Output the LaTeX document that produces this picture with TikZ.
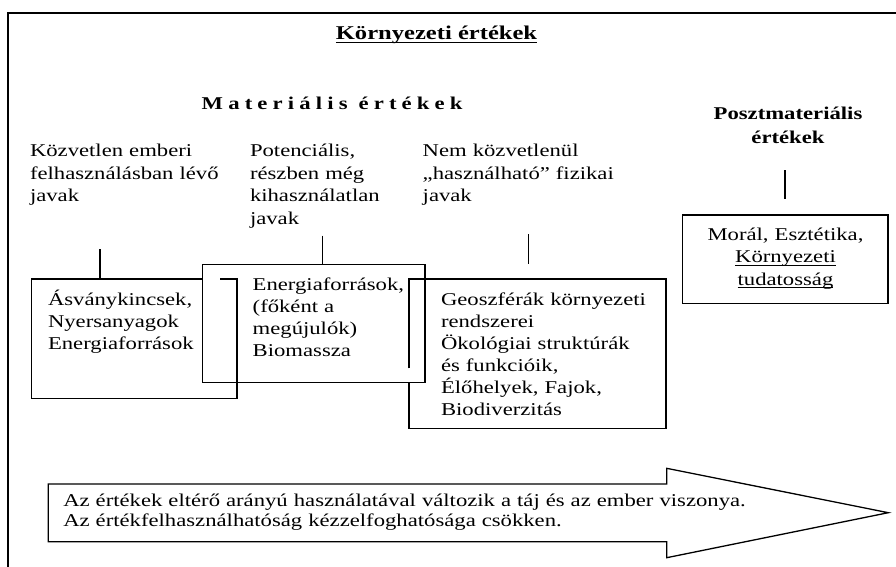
\documentclass[tikz,border=0pt]{standalone}
\usepackage{fontspec}
\setmainfont{Liberation Serif}[FakeStretch=1.26]
\newlength\ulw
\newcommand\myul[1]{\leavevmode\settowidth\ulw{#1}\rlap{\rule[-3.4pt]{\ulw}{1.1pt}}#1}
\begin{document}
\begin{tikzpicture}[x=1pt,y=-1pt,
  every node/.style={inner sep=0pt,outer sep=0pt},
  txt/.style={font=\fontsize{18}{22.5}\selectfont,anchor=base west,align=left,text width=#1},
  btxt/.style={font=\fontsize{18}{22}\selectfont,anchor=base west,align=left,text width=#1},
  ctxt/.style={anchor=base,align=center,text width=#1},
  ln/.style={line width=1.3pt},
  frame/.style={line width=2.2pt}]
\useasboundingbox (0,0) rectangle (896,567);
\fill[white] (0,0) rectangle (896,567);
% outer frame
\coordinate (fb) at (7.8,567);
\coordinate (fc) at (7.8,12.7);
\coordinate (fr) at (896,12.7);
\draw[frame] (fb) -- (fc) -- (fr);
% headings
\node[font=\fontsize{19.5}{22}\selectfont\bfseries,anchor=base] (title) at (436.5,39.3) {\myul{Környezeti értékek}};
\node[font=\fontsize{18}{22}\selectfont\bfseries\addfontfeature{LetterSpace=28.7},anchor=base west] (mat) at (201.7,110) {Materiális értékek};
\node[ctxt=200pt,font=\fontsize{18}{24}\selectfont\bfseries] (post) at (788,119.3) {Posztmateriális\\értékek};
% column texts
\node[txt=200pt] (c1) at (30,156.7) {Közvetlen emberi\\felhasználásban lévő\\javak};
\node[txt=170pt] (c2) at (250,156.7) {Potenciális,\\részben még\\kihasználatlan\\javak};
\node[txt=230pt] (c3) at (422.7,156.7) {Nem közvetlenül\\„használható” fizikai\\javak};
% box 1
\coordinate (b1a) at (202.7,279);
\coordinate (b1b) at (31.7,279);
\coordinate (b1c) at (31.7,398.3);
\coordinate (b1d) at (237,398.3);
\coordinate (b1e) at (237,279);
\coordinate (b1f) at (219.7,279);
\draw[ln] (b1a) -- (b1b) -- (b1c) -- (b1d) -- (b1e) -- (b1f);
\node[btxt=190pt] (t1) at (48,305) {Ásványkincsek,\\Nyersanyagok\\Energiaforrások};
% box 2
\coordinate (b2a) at (202.7,264.3);
\coordinate (b2b) at (425,382.7);
\draw[ln] (b2a) rectangle (b2b);
\node[btxt=175pt] (t2) at (252.7,290) {Energiaforrások,\\(főként a\\megújulók)\\Biomassza};
% box 3
\coordinate (b3a) at (409,368.3);
\coordinate (b3b) at (409,279);
\coordinate (b3c) at (666,279);
\coordinate (b3d) at (666,428.3);
\coordinate (b3e) at (409,428.3);
\coordinate (b3f) at (409,382.7);
\draw[ln] (b3a) -- (b3b) -- (b3c) -- (b3d) -- (b3e) -- (b3f);
\node[btxt=225pt] (t3) at (441,305) {Geoszférák környezeti\\rendszerei\\Ökológiai struktúrák\\és funkcióik,\\Élőhelyek, Fajok,\\Biodiverzitás};
% box 4
\node[draw,ln,minimum width=205.3pt,minimum height=88.3pt,anchor=north west] (b4) at (682.7,215) {};
\node[ctxt=200pt,font=\fontsize{18}{22.5}\selectfont] (t4) at (785.5,240) {Morál, Esztétika,\\\myul{Környezeti}\\\myul{tudatosság}};
% connectors
\coordinate (k1) at (100,249.3);
\coordinate (k1b) at (100,279);
\coordinate (k2) at (322.7,235.7);
\coordinate (k2b) at (322.7,264.3);
\coordinate (k3) at (528.3,234);
\coordinate (k3b) at (528.3,264.3);
\coordinate (k4) at (785,170);
\coordinate (k4b) at (785,199.3);
\draw[ln] (k1) -- (k1b);
\draw[ln] (k2) -- (k2b);
\draw[ln] (k3) -- (k3b);
\draw[ln] (k4) -- (k4b);
% arrow
\coordinate (a1) at (48.3,484);
\coordinate (a2) at (666.7,484);
\coordinate (a3) at (666.7,468.3);
\coordinate (a4) at (888.3,512.7);
\coordinate (a5) at (666.7,557.7);
\coordinate (a6) at (666.7,541.7);
\coordinate (a7) at (48.3,541.7);
\draw[ln,line join=miter] (a1) -- (a2) -- (a3) -- (a4) -- (a5) -- (a6) -- (a7) -- cycle;
\node[font=\fontsize{18}{19.5}\selectfont,anchor=base west,align=left,text width=700pt] (at) at (63.3,506.7) {Az értékek eltérő arányú használatával változik a táj és az ember viszonya.\\Az értékfelhasználhatóság kézzelfoghatósága csökken.};
\end{tikzpicture}
\end{document}
